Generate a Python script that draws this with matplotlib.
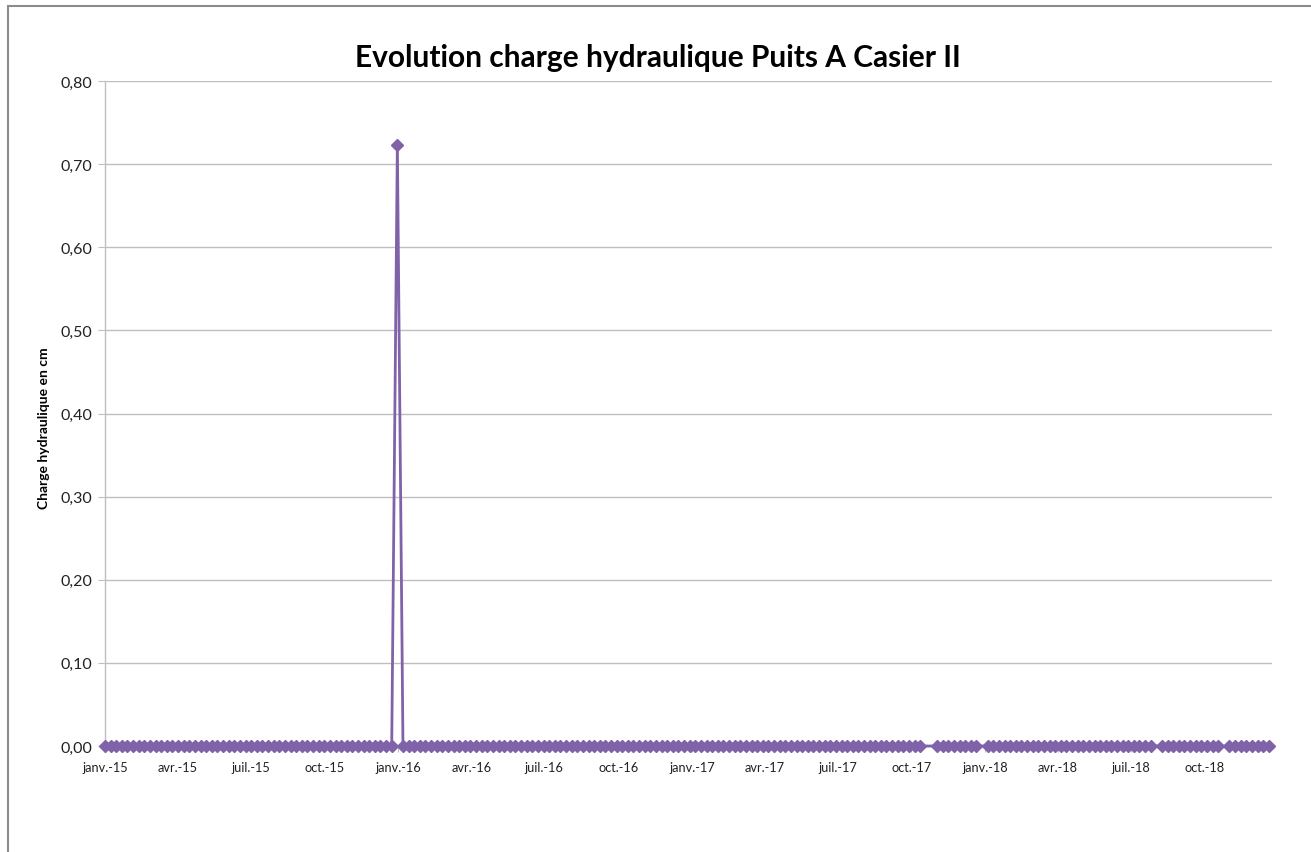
import matplotlib
matplotlib.use("Agg")
import matplotlib.pyplot as plt
import matplotlib.dates as mdates
from matplotlib.patches import Rectangle
from matplotlib.ticker import FuncFormatter
import pandas as pd

plt.rcParams['font.family'] = ['Lato', 'DejaVu Sans']

title = "Evolution charge hydraulique Puits A Casier II"
ylabel = "Charge hydraulique en cm"

dates = [
    # 2015
    "2015-01-01", "2015-01-08", "2015-01-15", "2015-01-22", "2015-01-29",
    "2015-02-05", "2015-02-12", "2015-02-19", "2015-02-26",
    "2015-03-05", "2015-03-12", "2015-03-19", "2015-03-26",
    "2015-04-02", "2015-04-09", "2015-04-16", "2015-04-23", "2015-04-30",
    "2015-05-07", "2015-05-14", "2015-05-21", "2015-05-28",
    "2015-06-04", "2015-06-11", "2015-06-18", "2015-06-25",
    "2015-07-02", "2015-07-09", "2015-07-16", "2015-07-23", "2015-07-30",
    "2015-08-06", "2015-08-13", "2015-08-20", "2015-08-27",
    "2015-09-03", "2015-09-10", "2015-09-17", "2015-09-24",
    "2015-10-01", "2015-10-08", "2015-10-15", "2015-10-22", "2015-10-29",
    "2015-11-05", "2015-11-12", "2015-11-19", "2015-11-26",
    "2015-12-03", "2015-12-10", "2015-12-17", "2015-12-24", "2015-12-31",
    # 2016
    "2016-01-07", "2016-01-14", "2016-01-21", "2016-01-28",
    "2016-02-04", "2016-02-11", "2016-02-18", "2016-02-25",
    "2016-03-03", "2016-03-10", "2016-03-17", "2016-03-24", "2016-03-31",
    "2016-04-07", "2016-04-14", "2016-04-21", "2016-04-28",
    "2016-05-05", "2016-05-12", "2016-05-19", "2016-05-26",
    "2016-06-02", "2016-06-09", "2016-06-16", "2016-06-23", "2016-06-30",
    "2016-07-07", "2016-07-14", "2016-07-21", "2016-07-28",
    "2016-08-04", "2016-08-11", "2016-08-18", "2016-08-25",
    "2016-09-01", "2016-09-08", "2016-09-15", "2016-09-22", "2016-09-29",
    "2016-10-06", "2016-10-13", "2016-10-20", "2016-10-27",
    "2016-11-03", "2016-11-10", "2016-11-17", "2016-11-24",
    "2016-12-01", "2016-12-08", "2016-12-15", "2016-12-22", "2016-12-29",
    # 2017
    "2017-01-05", "2017-01-12", "2017-01-19", "2017-01-26",
    "2017-02-02", "2017-02-09", "2017-02-16", "2017-02-23",
    "2017-03-02", "2017-03-09", "2017-03-16", "2017-03-23", "2017-03-30",
    "2017-04-06", "2017-04-13", "2017-04-20", "2017-04-27",
    "2017-05-04", "2017-05-11", "2017-05-18", "2017-05-25",
    "2017-06-01", "2017-06-08", "2017-06-15", "2017-06-22", "2017-06-29",
    "2017-07-06", "2017-07-13", "2017-07-20", "2017-07-27",
    "2017-08-03", "2017-08-10", "2017-08-17", "2017-08-24", "2017-08-31",
    "2017-09-07", "2017-09-14", "2017-09-21", "2017-09-28",
    "2017-10-05", "2017-10-12",
    "2017-11-02", "2017-11-09", "2017-11-16", "2017-11-23", "2017-11-30",
    "2017-12-07", "2017-12-14", "2017-12-21",
    # 2018
    "2018-01-04", "2018-01-11", "2018-01-18", "2018-01-25",
    "2018-02-01", "2018-02-08", "2018-02-15", "2018-02-22",
    "2018-03-01", "2018-03-08", "2018-03-15", "2018-03-22", "2018-03-29",
    "2018-04-05", "2018-04-12", "2018-04-19", "2018-04-26",
    "2018-05-03", "2018-05-10", "2018-05-17", "2018-05-24", "2018-05-31",
    "2018-06-07", "2018-06-14", "2018-06-21", "2018-06-28",
    "2018-07-05", "2018-07-12", "2018-07-19", "2018-07-26",
    "2018-08-09", "2018-08-16", "2018-08-23", "2018-08-30",
    "2018-09-06", "2018-09-13", "2018-09-20", "2018-09-27",
    "2018-10-04", "2018-10-11", "2018-10-18",
    "2018-11-01", "2018-11-08", "2018-11-15", "2018-11-22", "2018-11-29",
    "2018-12-06", "2018-12-13", "2018-12-20",
]

# charge hydraulique (cm): zero everywhere except the spike on 2015-12-31
spike_date = "2015-12-31"
spike_value = 0.723
values = [spike_value if d == spike_date else 0.0 for d in dates]

yticks = [0.0, 0.1, 0.2, 0.3, 0.4, 0.5, 0.6, 0.7, 0.8]
month_names = ["janv.", "févr.", "mars", "avr.", "mai", "juin",
               "juil.", "août", "sept.", "oct.", "nov.", "déc."]

x = pd.to_datetime(dates)

W, H = 1311, 853
fig = plt.figure(figsize=(W / 100, H / 100), dpi=100)
fig.patch.set_facecolor("white")

# outer chart-area border (extends past right and bottom edges)
fig.patches.append(Rectangle((8 / W, -0.05), 1.1, 1 - 7 / H + 0.05,
                             transform=fig.transFigure, fill=False,
                             edgecolor="#8c8c8c", linewidth=1.5))

ax = fig.add_axes([105 / W, 1 - 747 / H, (1272 - 105) / W, (747 - 82) / H])

color = "#7f62a8"
ax.plot(x, values, color=color, linewidth=2.0, marker="D",
        markersize=6, markerfacecolor=color, markeredgecolor=color,
        clip_on=False, zorder=3)

ax.set_ylim(0, 0.8)
ax.set_yticks(yticks)
ax.yaxis.set_major_formatter(FuncFormatter(lambda v, p: f"{v:.2f}".replace(".", ",")))

ax.set_xlim(pd.Timestamp("2015-01-01"), pd.Timestamp("2018-12-24"))
ax.xaxis.set_major_locator(mdates.MonthLocator(bymonth=[1, 4, 7, 10]))
ax.xaxis.set_major_formatter(FuncFormatter(
    lambda v, p: f"{month_names[mdates.num2date(v).month - 1]}-{mdates.num2date(v).year % 100:02d}"))

ax.grid(axis="y", color="#bfbfbf", linewidth=1.0)
ax.set_axisbelow(True)
for s in ["top", "right"]:
    ax.spines[s].set_visible(False)
for s in ["left", "bottom"]:
    ax.spines[s].set_color("#bfbfbf")
    ax.spines[s].set_linewidth(1.0)

ax.tick_params(axis="y", direction="out", length=5, color="#bfbfbf",
               labelsize=11.5, labelcolor="#222222", pad=4)
ax.tick_params(axis="x", direction="out", length=4, color="#bfbfbf",
               labelsize=9.2, labelcolor="#222222", pad=7)

ax.set_ylabel(ylabel, fontsize=10, fontweight="bold")
ax.yaxis.set_label_coords(-55 / (1272 - 105), 0.48)
fig.text(658 / W, 1 - 58 / H, title, ha="center", va="center",
         fontsize=21.5, fontweight="bold")

fig.savefig("out.png", dpi=100)
